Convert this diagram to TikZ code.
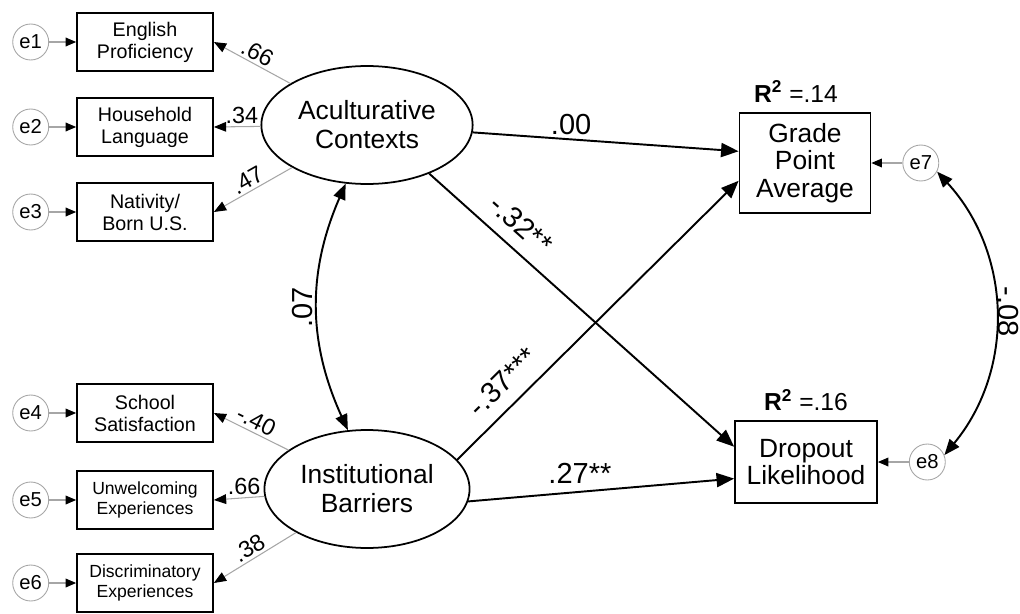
\documentclass[tikz,border=0pt]{standalone}
\usepackage{fontspec}
\setmainfont{Liberation Sans}
\usetikzlibrary{arrows.meta, positioning, shapes.geometric}
\tikzset{
  obs/.style={
    rectangle, draw, line width=1pt,
    minimum width=2.72cm, minimum height=1.16cm,
    align=center, inner sep=1pt,
    font=\fontsize{11.2}{12.5}\selectfont
  },
  obssm/.style = {obs, font=\fontsize{10}{11}\selectfont},
  outc/.style  = {rectangle, draw, line width=1pt, align=center,
                  font=\fontsize{15}{15.7}\selectfont},
  latent/.style= {ellipse, draw, line width=1pt, align=center,
                  minimum width=3.54cm, minimum height=2.36cm,
                  font=\fontsize{15}{16.5}\selectfont},
  err/.style   = {circle, draw=gray!70, line width=0.5pt,
                  minimum size=0.72cm, inner sep=0pt,
                  font=\fontsize{11.5}{12}\selectfont},
  rsq/.style   = {inner sep=1pt, font=\fontsize{14}{15}\selectfont},
  load/.style  = {draw=gray!70, line width=0.6pt,
                  -{Triangle[length=7pt, width=5.5pt, black]}},
  eload/.style = {draw=gray!70, line width=0.6pt,
                  -{Triangle[length=6pt, width=5pt, black]}},
  reg/.style   = {line width=1.1pt, -{Triangle[length=10pt, width=8pt]}},
  cov/.style   = {line width=1.1pt,
                  {Triangle[length=9pt, width=7pt]}-{Triangle[length=9pt, width=7pt]}},
  lbl/.style   = {inner sep=2pt, font=\fontsize{16.5}{17}\selectfont},
  llbl/.style  = {inner sep=1.5pt, font=\fontsize{13.3}{14}\selectfont},
}

\begin{document}
\begin{tikzpicture}[x=0.02cm, y=0.02cm]

  \useasboundingbox (0,0) rectangle (1020,613);

  % ── indicators, acculturation ─────────────────────────────────────────────
  \node[obs] (eng) at (145,571) {English\\Proficiency};
  \node[obs] (hh)  at (145,486) {Household\\Language};
  \node[obs] (nat) at (145,401) {Nativity/\\Born U.S.};

  % ── indicators, barriers ──────────────────────────────────────────────────
  \node[obs]   (sch) at (145,200) {School\\Satisfaction};
  \node[obssm] (unw) at (145,113) {Unwelcoming\\Experiences};
  \node[obssm] (dis) at (145,30)  {Discriminatory\\Experiences};

  % ── error terms ───────────────────────────────────────────────────────────
  \node[err, left=0.54cm of eng] (e1) {e1};
  \node[err, left=0.54cm of hh]  (e2) {e2};
  \node[err, left=0.54cm of nat] (e3) {e3};
  \node[err, left=0.54cm of sch] (e4) {e4};
  \node[err, left=0.54cm of unw] (e5) {e5};
  \node[err, left=0.54cm of dis] (e6) {e6};

  % ── latent factors ────────────────────────────────────────────────────────
  \node[latent] (acc)  at (367,488) {Aculturative\\Contexts};
  \node[latent] (inst) at (367,124) {Institutional\\Barriers};

  % ── outcomes ──────────────────────────────────────────────────────────────
  \node[outc, minimum width=2.62cm, minimum height=2cm]    (gpa)  at (805,450) {Grade\\Point\\Average};
  \node[outc, minimum width=2.84cm, minimum height=1.64cm] (drop) at (806,151) {Dropout\\Likelihood};
  \node[err, right=0.62cm of gpa]  (e7) {e7};
  \node[err, right=0.62cm of drop] (e8) {e8};
  \node[rsq, above=0.16cm of gpa, xshift=-0.18cm] (rgpa)  {\textbf{R\textsuperscript{2}} =.14};
  \node[rsq, above=0.14cm of drop]                (rdrop) {\textbf{R\textsuperscript{2}} =.16};

  % ── error arrows ──────────────────────────────────────────────────────────
  \draw[eload] (e1) -- (eng);
  \draw[eload] (e2) -- (hh);
  \draw[eload] (e3) -- (nat);
  \draw[eload] (e4) -- (sch);
  \draw[eload] (e5) -- (unw);
  \draw[eload] (e6) -- (dis);
  \draw[eload] (e7) -- (gpa);
  \draw[eload] (e8) -- (drop);

  % ── loadings ──────────────────────────────────────────────────────────────
  \draw[load] (acc)  -- (eng.east) node[llbl, pos=0.5, sloped, above] {.66};
  \draw[load] (acc)  -- (hh.east)  node[llbl, pos=0.4, above] {.34};
  \draw[load] (acc)  -- (nat.east) node[llbl, pos=0.5, sloped, above] {.47};
  \draw[load] (inst) -- (sch.east) node[llbl, pos=0.5, sloped, above] {-.40};
  \draw[load] (inst) -- (unw.east) node[llbl, pos=0.4, above] {.66};
  \draw[load] (inst) -- (dis.east) node[llbl, pos=0.5, sloped, above] {.38};

  % ── structural paths ──────────────────────────────────────────────────────
  \draw[reg] (acc.-4)  -- (gpa.170)  node[lbl, pos=0.37, above] {.00};
  \draw[reg] (acc.-38) -- (drop.168) node[lbl, pos=0.25, sloped, above=5pt] {-.32**};
  \draw[reg] (inst.18) -- (gpa.195)  node[lbl, pos=0.22, sloped, above=5pt] {-.37***};
  \draw[reg] (inst.-7) -- (drop.193) node[lbl, pos=0.42, above=2pt] {.27**};

  % ── covariances ───────────────────────────────────────────────────────────
  \draw[cov] (acc.250) to[bend right=24]
    node[lbl, midway, rotate=90, anchor=south] {.07} (inst.108);
  \draw[cov] (e7.-28) to[bend left=41]
    node[lbl, midway, rotate=-90, anchor=south, inner sep=1pt] {-.08} (e8.22);

\end{tikzpicture}
\end{document}
